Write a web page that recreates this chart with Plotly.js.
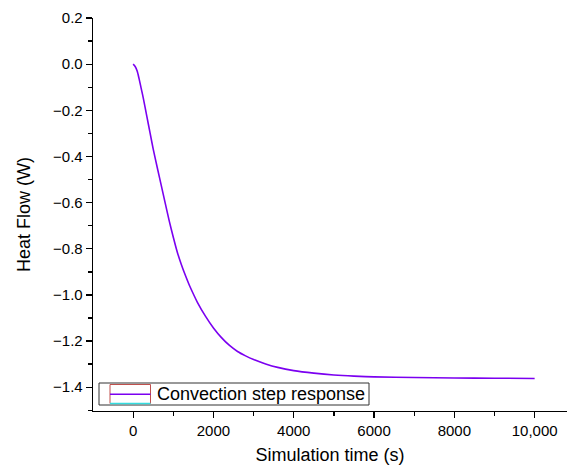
<!DOCTYPE html>
<html><head><meta charset="utf-8">
<script src="https://cdn.plot.ly/plotly-3.0.1.min.js"></script>
<style>html,body{margin:0;padding:0;background:#fff}#chart{width:567px;height:466px}</style>
</head><body><div id="chart"></div>
<script>
const seriesName = "Convection step response";
const timeS = [0,50,100,150,200,250,340,420,500,600,700,800,900,1000,1100,1200,1300,1400,1500,1600,1800,2000,2200,2400,2600,2800,3000,3300,3600,4000,4500,5000,5500,6000,7000,8000,9000,10000];
const heatFlowW = [0,-0.010,-0.030,-0.065,-0.105,-0.145,-0.225,-0.297,-0.368,-0.448,-0.525,-0.603,-0.680,-0.750,-0.815,-0.868,-0.915,-0.958,-0.996,-1.032,-1.092,-1.143,-1.185,-1.219,-1.245,-1.264,-1.280,-1.299,-1.314,-1.328,-1.339,-1.347,-1.352,-1.355,-1.358,-1.360,-1.361,-1.362];
const xTickVals = [0,2000,4000,6000,8000,10000];
const xTickText = ["0","2000","4000","6000","8000","10,000"];
const yTickVals = [0.2,0.0,-0.2,-0.4,-0.6,-0.8,-1.0,-1.2,-1.4];
const yTickText = ["0.2","0.0","\u22120.2","\u22120.4","\u22120.6","\u22120.8","\u22121.0","\u22121.2","\u22121.4"];

const W = 567, H = 466, L = 93, R = 0, T = 18, B = 55;
const pw = W - L - R, ph = H - T - B;
const px = v => (v - L) / pw;
const py = v => (H - B - v) / ph;

const font = "Liberation Sans, Arial, sans-serif";
const trace = {
  x: timeS, y: heatFlowW, type: "scatter", mode: "lines", name: seriesName,
  line: {color: "#7b00f0", width: 1.6, shape: "spline", smoothing: 0.8}, showlegend: false, hoverinfo: "skip"
};
const layout = {
  width: W, height: H,
  margin: {l: L, r: R, t: T, b: B, pad: 0},
  paper_bgcolor: "#fff", plot_bgcolor: "#fff",
  font: {family: font, color: "#000", size: 15},
  showlegend: false,
  xaxis: {
    range: [-1000, 10806], showgrid: false, zeroline: false,
    showline: true, linecolor: "#000", linewidth: 1.3,
    ticks: "outside", ticklen: 6, tickwidth: 1.3, tickcolor: "#000",
    tickvals: xTickVals, ticktext: xTickText, tickfont: {size: 15, family: font},
    minor: {tickvals: [1000,3000,5000,7000,9000], ticks: "outside", ticklen: 3.5, tickwidth: 1.3, tickcolor: "#000"},
    title: {text: "Simulation time (s)", font: {size: 18, family: font}, standoff: 10}
  },
  yaxis: {
    range: [-1.503, 0.2], showgrid: false, zeroline: false,
    showline: true, linecolor: "#000", linewidth: 1.3,
    ticks: "outside", ticklen: 6, tickwidth: 1.3, tickcolor: "#000",
    tickvals: yTickVals, ticktext: yTickText, tickfont: {size: 15, family: font},
    minor: {tickvals: [0.1,-0.1,-0.3,-0.5,-0.7,-0.9,-1.1,-1.3,-1.5], ticks: "outside", ticklen: 3.5, tickwidth: 1.3, tickcolor: "#000"},
    title: {text: "Heat Flow (W)", font: {size: 18, family: font}, standoff: 17}
  },
  shapes: [
    {type: "rect", xref: "paper", yref: "paper", x0: px(99), x1: px(369), y0: py(405), y1: py(383), line: {color: "#333", width: 1}, fillcolor: "rgba(255,255,255,0)"},
    {type: "rect", xref: "paper", yref: "paper", x0: px(110), x1: px(150.5), y0: py(403.5), y1: py(384.5), line: {color: "#c0504d", width: 1}},
    {type: "line", xref: "paper", yref: "paper", x0: px(110), x1: px(150.5), y0: py(403.5), y1: py(403.5), line: {color: "#33dde0", width: 1.5}},
    {type: "line", xref: "paper", yref: "paper", x0: px(110), x1: px(150.5), y0: py(394.3), y1: py(394.3), line: {color: "#7b00f0", width: 1.6}}
  ],
  annotations: [
    {xref: "paper", yref: "paper", x: px(155), y: py(394), xanchor: "left", yanchor: "middle", showarrow: false, text: seriesName, font: {size: 18, family: font, color: "#000"}}
  ]
};
Plotly.newPlot("chart", [trace], layout, {displayModeBar: false, staticPlot: true});
</script></body></html>
